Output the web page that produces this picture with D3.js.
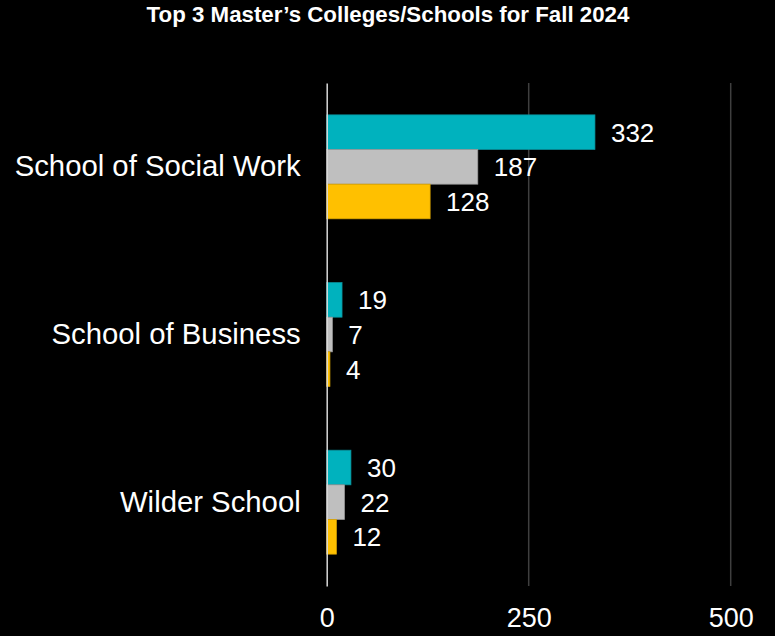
<!DOCTYPE html>
<html>
<head>
<meta charset="utf-8">
<script src="https://cdn.jsdelivr.net/npm/d3@7"></script>
<style>
  html, body { margin: 0; padding: 0; background: #000; }
  svg { display: block; }
  text { font-family: "Liberation Sans", Arial, sans-serif; fill: #fff; }
</style>
</head>
<body>
<svg id="chart" width="775" height="636"></svg>
<script>
// Master's enrollment by school, three series per school
const schools = ["School of Social Work", "School of Business", "Wilder School"];
const seriesNames = ["series1", "series2", "series3"];
const series1 = [332, 19, 30];
const series2 = [187, 7, 22];
const series3 = [128, 4, 12];
const seriesColors = ["#00B2BE", "#BFBFBF", "#FFC000"];
const seriesStrokes = ["#0a8f99", "#9a9a9a", "#d9a300"];
const tickValues = [0, 250, 500];
const title = "Top 3 Master\u2019s Colleges/Schools for Fall 2024";

const values = [series1, series2, series3];
const rows = schools.map((s, i) => ({
  school: s,
  items: seriesNames.map((n, k) => ({ key: n, k, value: values[k][i] }))
}));

const svg = d3.select("#chart");
const plotLeft = 326.7, plotRight = 730.7, plotTop = 83, plotBottom = 586;

const x = d3.scaleLinear().domain([0, 500]).range([plotLeft, plotRight]);
const y = d3.scaleBand().domain(schools).range([plotTop, plotBottom])
  .paddingInner(0.38).paddingOuter(0.19);
const ySub = d3.scaleBand().domain(seriesNames).range([0, y.bandwidth()]);

// title
svg.append("text")
  .attr("x", 388).attr("y", 22)
  .attr("text-anchor", "middle")
  .style("font-weight", "bold")
  .style("font-size", "22.3px")
  .text(title);

// vertical gridlines
svg.append("g").selectAll("line")
  .data(tickValues.filter(d => d !== 0))
  .join("line")
  .attr("x1", d => x(d)).attr("x2", d => x(d))
  .attr("y1", plotTop).attr("y2", plotBottom)
  .attr("stroke", "#3f3f3f").attr("stroke-width", 1.5);

// x tick labels
const xAxis = d3.axisBottom(x).tickValues(tickValues).tickSize(0).tickPadding(0);
const gx = svg.append("g").attr("transform", `translate(0,${plotBottom + 22})`).call(xAxis);
gx.select(".domain").remove();
gx.selectAll("text")
  .attr("fill", "#fff")
  .attr("dy", "0.71em")
  .style("font-size", "27px")
  .style("font-family", "'Liberation Sans', Arial, sans-serif");

// bars
const groups = svg.append("g").selectAll("g")
  .data(rows)
  .join("g")
  .attr("transform", d => `translate(0,${y(d.school)})`);

groups.selectAll("rect")
  .data(d => d.items)
  .join("rect")
  .attr("x", x(0))
  .attr("y", d => ySub(d.key))
  .attr("width", d => x(d.value) - x(0))
  .attr("height", ySub.bandwidth())
  .attr("fill", d => seriesColors[d.k])
  .attr("stroke", d => seriesStrokes[d.k])
  .attr("stroke-width", 0.75);

// value labels
groups.selectAll("text.val")
  .data(d => d.items)
  .join("text")
  .attr("class", "val")
  .attr("x", d => x(d.value) + 16)
  .attr("y", d => ySub(d.key) + ySub.bandwidth() / 2)
  .attr("dy", "0.36em")
  .style("font-size", "26px")
  .text(d => d.value);

// category axis
const yAxis = d3.axisLeft(y).tickSize(0).tickPadding(26);
const gy = svg.append("g").attr("transform", `translate(${x(0)},0)`).call(yAxis);
gy.select(".domain").attr("stroke", "#d9d9d9").attr("stroke-width", 1.5);
gy.selectAll("text")
  .attr("fill", "#fff")
  .style("font-size", "29.3px")
  .style("font-family", "'Liberation Sans', Arial, sans-serif");
</script>
</body>
</html>
